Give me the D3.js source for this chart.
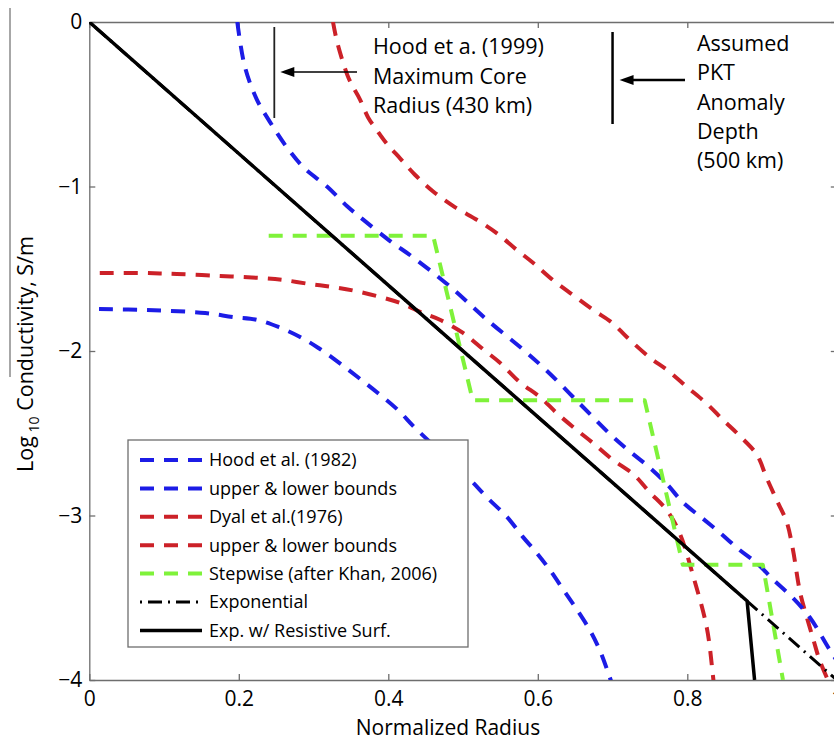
<!DOCTYPE html>
<html><head><meta charset="utf-8">
<script src="https://cdn.jsdelivr.net/npm/d3@7"></script>
<style>body{margin:0;background:#fff}svg{display:block}</style></head>
<body><svg id="c" width="834" height="740"></svg>
<script>
// ---------- data ----------
const xTicks = [0, 0.2, 0.4, 0.6, 0.8, 1];
const yTicks = [0, -1, -2, -3, -4];

const hoodCurve = [[0.198,0],[0.208,-0.27],[0.224,-0.47],[0.242,-0.61],[0.264,-0.76],[0.288,-0.89],[0.318,-1.00],[0.345,-1.12],[0.366,-1.20],[0.402,-1.33],[0.433,-1.43],[0.483,-1.61],[0.532,-1.81],[0.580,-1.99],[0.612,-2.12],[0.656,-2.32],[0.700,-2.52],[0.723,-2.61],[0.750,-2.71],[0.773,-2.81],[0.794,-2.92],[0.821,-3.02],[0.845,-3.11],[0.870,-3.21],[0.893,-3.29],[0.915,-3.39],[0.941,-3.50],[0.964,-3.62],[0.991,-3.82],[1.01,-3.95]];
const hoodBound = [[0.013,-1.745],[0.077,-1.751],[0.155,-1.769],[0.192,-1.793],[0.224,-1.81],[0.253,-1.854],[0.282,-1.915],[0.306,-1.98],[0.333,-2.067],[0.359,-2.158],[0.386,-2.255],[0.413,-2.359],[0.436,-2.468],[0.509,-2.78],[0.532,-2.89],[0.559,-3.01],[0.580,-3.13],[0.599,-3.23],[0.616,-3.33],[0.634,-3.45],[0.652,-3.57],[0.670,-3.70],[0.683,-3.82],[0.696,-3.98],[0.699,-4.02]];
const dyalUpper = [[0.326,0],[0.332,-0.13],[0.345,-0.32],[0.351,-0.38],[0.362,-0.47],[0.373,-0.58],[0.385,-0.66],[0.398,-0.74],[0.416,-0.83],[0.436,-0.93],[0.460,-1.03],[0.489,-1.125],[0.519,-1.204],[0.545,-1.283],[0.572,-1.386],[0.594,-1.465],[0.620,-1.568],[0.647,-1.66],[0.674,-1.75],[0.700,-1.83],[0.719,-1.915],[0.750,-2.04],[0.773,-2.115],[0.800,-2.22],[0.826,-2.32],[0.848,-2.42],[0.871,-2.52],[0.893,-2.63],[0.906,-2.77],[0.920,-2.91],[0.933,-3.04],[0.941,-3.20],[0.951,-3.47],[0.960,-3.62],[0.969,-3.76],[0.977,-3.88],[0.990,-4.02]];
const dyalLower = [[0.014,-1.526],[0.072,-1.526],[0.117,-1.532],[0.175,-1.544],[0.228,-1.556],[0.259,-1.568],[0.295,-1.593],[0.326,-1.611],[0.362,-1.641],[0.416,-1.708],[0.446,-1.769],[0.469,-1.81],[0.500,-1.89],[0.527,-1.99],[0.549,-2.07],[0.576,-2.19],[0.603,-2.28],[0.626,-2.38],[0.652,-2.48],[0.674,-2.56],[0.700,-2.66],[0.728,-2.75],[0.750,-2.86],[0.773,-2.97],[0.790,-3.11],[0.808,-3.37],[0.826,-3.68],[0.834,-3.96],[0.836,-4.05]];
const stepwise = [[0.240,-1.30],[0.460,-1.30],[0.513,-2.30],[0.743,-2.30],[0.794,-3.30],[0.901,-3.30],[0.928,-4.0]];
const exponential = [[0,0],[1,-4]];
const resistive = [[0,0],[0.880,-3.52],[0.890,-4.0]];

const legendLabels = ["Hood et al. (1982)","upper & lower bounds","Dyal et al.(1976)","upper & lower bounds","Stepwise (after Khan, 2006)","Exponential","Exp. w/ Resistive Surf."];
const hoodNote = ["Hood et a. (1999)","Maximum Core","Radius (430 km)"];
const pktNote = ["Assumed","PKT","Anomaly","Depth","(500 km)"];
const hoodRadius = 0.2475;
const pktRadius = 0.70;

// ---------- styles ----------
const BLUE="#1c1ce6", RED="#cc2128", GREEN="#7ff23a";
const styles = [
  {c:BLUE,w:4,d:"14,10"},{c:BLUE,w:4,d:"14,10"},
  {c:RED,w:4,d:"14,10"},{c:RED,w:4,d:"14,10"},
  {c:GREEN,w:4,d:"14,10"},
  {c:"#000",w:3,d:"2,6,14,6"},
  {c:"#000",w:3.5,d:null}
];
const FONT="'Open Sans', sans-serif";
const AX="#6e6e6e";

const svg=d3.select("#c");
const x=d3.scaleLinear().domain([0,1]).range([89.3,836.8]);
const y=d3.scaleLinear().domain([0,-4]).range([22,680]);

// stray gray line at far left (scan artefact)
svg.append("line").attr("x1",10).attr("x2",10).attr("y1",8).attr("y2",377)
  .attr("stroke","#8a8a8a").attr("stroke-width",1.5);

svg.append("defs").append("clipPath").attr("id","clip").append("rect")
  .attr("x",x(0)).attr("y",y(0)).attr("width",x(1)-x(0)).attr("height",y(-4)-y(0));

// axes
function styleAxis(g){
  g.select(".domain").attr("stroke",AX).attr("stroke-width",1.3);
  g.selectAll(".tick line").attr("stroke",AX).attr("stroke-width",1.3);
  g.selectAll("text").attr("font-family",FONT).attr("font-size",21).attr("fill","#000");
}
const fmtX=d=>d===0?"0":(d===1?"1":d3.format(".1f")(d));
svg.append("g").attr("transform",`translate(0,${y(-4)})`)
  .call(d3.axisBottom(x).tickValues(xTicks).tickFormat(fmtX).tickSizeInner(-6).tickSizeOuter(0).tickPadding(11))
  .call(styleAxis);
svg.append("g").attr("transform",`translate(0,${y(0)})`)
  .call(d3.axisTop(x).tickValues(xTicks).tickFormat("").tickSizeInner(-6).tickSizeOuter(0))
  .call(styleAxis);
svg.append("g").attr("transform",`translate(${x(0)},0)`)
  .call(d3.axisLeft(y).tickValues(yTicks).tickFormat(d3.format("d")).tickSizeInner(-6).tickSizeOuter(0).tickPadding(7))
  .call(styleAxis);
svg.append("g").attr("transform",`translate(${x(1)},0)`)
  .call(d3.axisRight(y).tickValues(yTicks).tickFormat("").tickSizeInner(-6).tickSizeOuter(0))
  .call(styleAxis);

// curves
const plot=svg.append("g").attr("clip-path","url(#clip)");
const smooth=d3.line().x(d=>x(d[0])).y(d=>y(d[1])).curve(d3.curveCatmullRom.alpha(0.5));
const straight=d3.line().x(d=>x(d[0])).y(d=>y(d[1]));
function draw(data,s,gen){
  const p=plot.append("path").attr("d",gen(data)).attr("fill","none")
   .attr("stroke",s.c).attr("stroke-width",s.w).attr("stroke-linejoin","round");
  if(s.d) p.attr("stroke-dasharray",s.d);
}
draw(hoodBound,styles[1],smooth);
draw(dyalLower,styles[3],smooth);
draw(dyalUpper,styles[2],smooth);
draw(hoodCurve,styles[0],smooth);
draw(stepwise,styles[4],straight);
draw(exponential,styles[5],straight);
draw(resistive,styles[6],straight);

// annotations
function arrow(x1,x2,yy,w){
  svg.append("line").attr("x1",x1).attr("x2",x2+10).attr("y1",yy).attr("y2",yy)
    .attr("stroke","#000").attr("stroke-width",w);
  svg.append("path").attr("d",`M${x2},${yy} L${x2+14},${yy-5} L${x2+14},${yy+5} Z`).attr("fill","#000");
}
svg.append("line").attr("x1",x(hoodRadius)).attr("x2",x(hoodRadius)).attr("y1",27).attr("y2",118)
  .attr("stroke","#222").attr("stroke-width",1.8);
arrow(357,x(hoodRadius)+6,72,1.6);
svg.append("g").selectAll("text").data(hoodNote).join("text")
  .attr("x",373).attr("y",(d,i)=>54+i*29.5).text(d=>d)
  .attr("font-family",FONT).attr("font-size",21.5).attr("fill","#000");

svg.append("line").attr("x1",x(pktRadius)).attr("x2",x(pktRadius)).attr("y1",32).attr("y2",124)
  .attr("stroke","#000").attr("stroke-width",2.5);
arrow(685,x(pktRadius)+7,80,2.5);
svg.append("g").selectAll("text").data(pktNote).join("text")
  .attr("x",697).attr("y",(d,i)=>51+i*29.3).text(d=>d)
  .attr("font-family",FONT).attr("font-size",21.5).attr("fill","#000");

// legend
const lg=svg.append("g");
lg.append("rect").attr("x",128).attr("y",440).attr("width",340).attr("height",207)
  .attr("fill","#fff").attr("stroke",AX).attr("stroke-width",1.3);
legendLabels.forEach((t,i)=>{
  const yy=460+i*28.4, s=styles[i];
  const l=lg.append("line").attr("x1",140).attr("x2",202).attr("y1",yy).attr("y2",yy)
    .attr("stroke",s.c).attr("stroke-width",s.w);
  if(s.d) l.attr("stroke-dasharray",s.d);
  lg.append("text").attr("x",209).attr("y",yy).attr("dy","0.36em").text(t)
    .attr("font-family",FONT).attr("font-size",18).attr("fill","#000");
});

// axis titles
svg.append("text").attr("x",448).attr("y",734.5).attr("text-anchor","middle")
  .attr("font-family",FONT).attr("font-size",21).text("Normalized Radius");
const yt=svg.append("text").attr("transform","translate(33,354) rotate(-90)").attr("text-anchor","middle")
  .attr("font-family",FONT).attr("font-size",21.5);
yt.append("tspan").text("Log");
yt.append("tspan").attr("dy",6).attr("font-size",14).text(" 10");
yt.append("tspan").attr("dy",-6).text(" Conductivity, S/m");
</script></body></html>
